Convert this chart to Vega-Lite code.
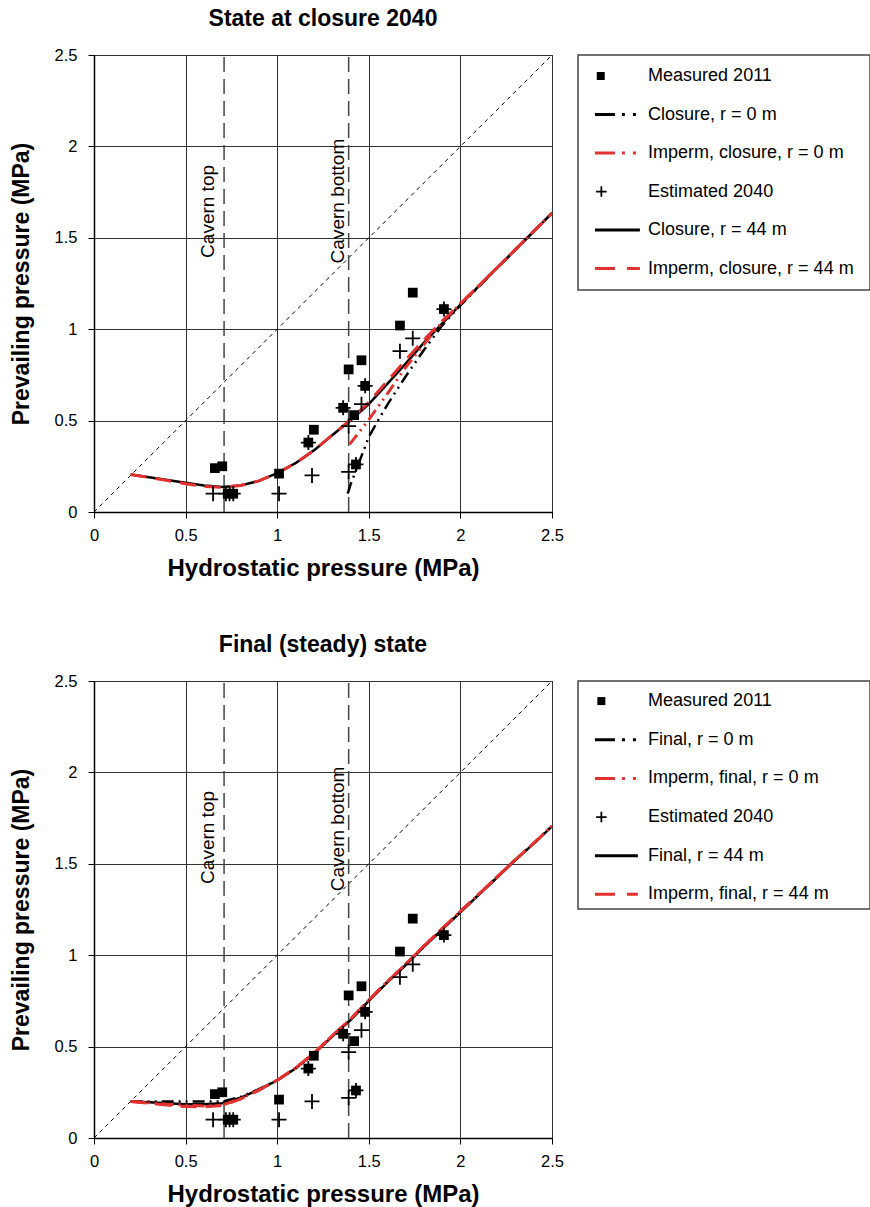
{
  "$schema": "https://vega.github.io/schema/vega-lite/v6.json",
  "background": "white",
  "padding": {"left": 9, "top": 7, "right": 0, "bottom": 0},
  "spacing": 52,
  "datasets": {
    "measured": [{"x":0.66,"y":0.24},{"x":0.70,"y":0.25},{"x":0.73,"y":0.10},{"x":0.76,"y":0.10},{"x":1.01,"y":0.21},{"x":1.17,"y":0.38},{"x":1.20,"y":0.45},{"x":1.36,"y":0.57},{"x":1.39,"y":0.78},{"x":1.42,"y":0.53},{"x":1.43,"y":0.26},{"x":1.46,"y":0.83},{"x":1.48,"y":0.69},{"x":1.67,"y":1.02},{"x":1.74,"y":1.20},{"x":1.91,"y":1.11}],
    "estimated": [{"x":0.65,"y":0.10},{"x":0.72,"y":0.10},{"x":0.74,"y":0.10},{"x":0.76,"y":0.10},{"x":1.01,"y":0.10},{"x":1.17,"y":0.38},{"x":1.19,"y":0.20},{"x":1.36,"y":0.57},{"x":1.39,"y":0.47},{"x":1.39,"y":0.22},{"x":1.43,"y":0.26},{"x":1.46,"y":0.59},{"x":1.48,"y":0.69},{"x":1.67,"y":0.88},{"x":1.74,"y":0.95},{"x":1.91,"y":1.11}],
    "diag": [{"x":0,"y":0},{"x":2.5,"y":2.5}],
    "cavern": [{"x":0.71,"label":"Cavern top","ty":1.39},{"x":1.39,"label":"Cavern bottom","ty":1.36}],
    "cavern2": [{"x":0.71,"label":"Cavern top","ty":1.39},{"x":1.39,"label":"Cavern bottom","ty":1.35}],
    "top_curves": [
      {"s":"r44","x":0.20,"y":0.205},{"s":"r44","x":0.30,"y":0.19},{"s":"r44","x":0.40,"y":0.175},{"s":"r44","x":0.50,"y":0.16},{"s":"r44","x":0.60,"y":0.145},{"s":"r44","x":0.70,"y":0.137},{"s":"r44","x":0.80,"y":0.145},{"s":"r44","x":0.90,"y":0.17},{"s":"r44","x":1.00,"y":0.212},{"s":"r44","x":1.10,"y":0.267},{"s":"r44","x":1.20,"y":0.337},{"s":"r44","x":1.30,"y":0.42},{"s":"r44","x":1.40,"y":0.50},{"s":"r44","x":1.50,"y":0.59},{"s":"r44","x":1.60,"y":0.70},{"s":"r44","x":1.70,"y":0.81},{"s":"r44","x":1.80,"y":0.925},{"s":"r44","x":1.90,"y":1.03},{"s":"r44","x":2.00,"y":1.135},{"s":"r44","x":2.10,"y":1.235},{"s":"r44","x":2.20,"y":1.335},{"s":"r44","x":2.30,"y":1.435},{"s":"r44","x":2.40,"y":1.535},{"s":"r44","x":2.50,"y":1.635},
      {"s":"i44","x":0.20,"y":0.205},{"s":"i44","x":0.30,"y":0.19},{"s":"i44","x":0.40,"y":0.172},{"s":"i44","x":0.50,"y":0.155},{"s":"i44","x":0.60,"y":0.14},{"s":"i44","x":0.70,"y":0.135},{"s":"i44","x":0.80,"y":0.145},{"s":"i44","x":0.90,"y":0.17},{"s":"i44","x":1.00,"y":0.212},{"s":"i44","x":1.10,"y":0.267},{"s":"i44","x":1.20,"y":0.337},{"s":"i44","x":1.30,"y":0.42},{"s":"i44","x":1.40,"y":0.505},{"s":"i44","x":1.50,"y":0.60},{"s":"i44","x":1.60,"y":0.715},{"s":"i44","x":1.70,"y":0.83},{"s":"i44","x":1.80,"y":0.94},{"s":"i44","x":1.90,"y":1.045},{"s":"i44","x":2.00,"y":1.14},{"s":"i44","x":2.10,"y":1.237},{"s":"i44","x":2.20,"y":1.336},{"s":"i44","x":2.30,"y":1.435},{"s":"i44","x":2.40,"y":1.535},{"s":"i44","x":2.50,"y":1.635},
      {"s":"r0","x":1.385,"y":0.10},{"s":"r0","x":1.40,"y":0.15},{"s":"r0","x":1.42,"y":0.20},{"s":"r0","x":1.45,"y":0.28},{"s":"r0","x":1.50,"y":0.41},{"s":"r0","x":1.55,"y":0.50},{"s":"r0","x":1.60,"y":0.585},{"s":"r0","x":1.70,"y":0.74},{"s":"r0","x":1.80,"y":0.885},{"s":"r0","x":1.90,"y":1.02},{"s":"r0","x":2.00,"y":1.13},{"s":"r0","x":2.10,"y":1.233},{"s":"r0","x":2.20,"y":1.334},{"s":"r0","x":2.30,"y":1.434},{"s":"r0","x":2.40,"y":1.534},{"s":"r0","x":2.50,"y":1.635},
      {"s":"i0","x":1.395,"y":0.37},{"s":"i0","x":1.45,"y":0.44},{"s":"i0","x":1.50,"y":0.505},{"s":"i0","x":1.60,"y":0.645},{"s":"i0","x":1.70,"y":0.79},{"s":"i0","x":1.80,"y":0.915},{"s":"i0","x":1.90,"y":1.04},{"s":"i0","x":2.00,"y":1.14},{"s":"i0","x":2.10,"y":1.237},{"s":"i0","x":2.20,"y":1.336},{"s":"i0","x":2.30,"y":1.435},{"s":"i0","x":2.40,"y":1.535},{"s":"i0","x":2.50,"y":1.635}
    ],
    "bottom_curves": [
      {"s":"r44","x":0.20,"y":0.20},{"s":"r44","x":0.30,"y":0.195},{"s":"r44","x":0.40,"y":0.19},{"s":"r44","x":0.50,"y":0.185},{"s":"r44","x":0.60,"y":0.185},{"s":"r44","x":0.70,"y":0.19},{"s":"r44","x":0.80,"y":0.22},{"s":"r44","x":0.90,"y":0.265},{"s":"r44","x":1.00,"y":0.315},{"s":"r44","x":1.10,"y":0.38},{"s":"r44","x":1.20,"y":0.46},{"s":"r44","x":1.30,"y":0.555},{"s":"r44","x":1.40,"y":0.645},{"s":"r44","x":1.50,"y":0.75},{"s":"r44","x":1.60,"y":0.85},{"s":"r44","x":1.70,"y":0.945},{"s":"r44","x":1.80,"y":1.045},{"s":"r44","x":1.90,"y":1.14},{"s":"r44","x":2.00,"y":1.235},{"s":"r44","x":2.10,"y":1.33},{"s":"r44","x":2.20,"y":1.425},{"s":"r44","x":2.30,"y":1.52},{"s":"r44","x":2.40,"y":1.61},{"s":"r44","x":2.50,"y":1.705},
      {"s":"r0","x":0.20,"y":0.20},{"s":"r0","x":0.40,"y":0.20},{"s":"r0","x":0.60,"y":0.20},{"s":"r0","x":0.70,"y":0.20},{"s":"r0","x":0.80,"y":0.225},{"s":"r0","x":0.90,"y":0.267},{"s":"r0","x":1.00,"y":0.317},{"s":"r0","x":1.10,"y":0.382},{"s":"r0","x":1.20,"y":0.462},{"s":"r0","x":1.30,"y":0.557},{"s":"r0","x":1.40,"y":0.647},{"s":"r0","x":1.50,"y":0.752},{"s":"r0","x":1.60,"y":0.852},{"s":"r0","x":1.70,"y":0.947},{"s":"r0","x":1.80,"y":1.047},{"s":"r0","x":1.90,"y":1.142},{"s":"r0","x":2.00,"y":1.237},{"s":"r0","x":2.10,"y":1.332},{"s":"r0","x":2.20,"y":1.427},{"s":"r0","x":2.30,"y":1.522},{"s":"r0","x":2.40,"y":1.612},{"s":"r0","x":2.50,"y":1.707},
      {"s":"i0","x":0.20,"y":0.20},{"s":"i0","x":0.40,"y":0.185},{"s":"i0","x":0.60,"y":0.175},{"s":"i0","x":0.70,"y":0.18},{"s":"i0","x":0.80,"y":0.215},{"s":"i0","x":0.90,"y":0.262},{"s":"i0","x":1.00,"y":0.316},{"s":"i0","x":1.10,"y":0.383},{"s":"i0","x":1.20,"y":0.464},{"s":"i0","x":1.30,"y":0.559},{"s":"i0","x":1.40,"y":0.65},{"s":"i0","x":1.50,"y":0.755},{"s":"i0","x":1.60,"y":0.855},{"s":"i0","x":1.70,"y":0.95},{"s":"i0","x":1.80,"y":1.05},{"s":"i0","x":1.90,"y":1.145},{"s":"i0","x":2.00,"y":1.24},{"s":"i0","x":2.10,"y":1.334},{"s":"i0","x":2.20,"y":1.428},{"s":"i0","x":2.30,"y":1.522},{"s":"i0","x":2.40,"y":1.612},{"s":"i0","x":2.50,"y":1.707},
      {"s":"i44","x":0.20,"y":0.20},{"s":"i44","x":0.30,"y":0.19},{"s":"i44","x":0.40,"y":0.18},{"s":"i44","x":0.50,"y":0.172},{"s":"i44","x":0.60,"y":0.17},{"s":"i44","x":0.70,"y":0.178},{"s":"i44","x":0.80,"y":0.213},{"s":"i44","x":0.90,"y":0.262},{"s":"i44","x":1.00,"y":0.316},{"s":"i44","x":1.10,"y":0.383},{"s":"i44","x":1.20,"y":0.464},{"s":"i44","x":1.30,"y":0.559},{"s":"i44","x":1.40,"y":0.65},{"s":"i44","x":1.50,"y":0.755},{"s":"i44","x":1.60,"y":0.855},{"s":"i44","x":1.70,"y":0.95},{"s":"i44","x":1.80,"y":1.05},{"s":"i44","x":1.90,"y":1.145},{"s":"i44","x":2.00,"y":1.24},{"s":"i44","x":2.10,"y":1.334},{"s":"i44","x":2.20,"y":1.428},{"s":"i44","x":2.30,"y":1.522},{"s":"i44","x":2.40,"y":1.612},{"s":"i44","x":2.50,"y":1.707}
    ],
    "legend_top": [{"row":0,"label":"Measured 2011","sym":"square"},{"row":1,"label":"Closure, r = 0 m","sym":"k0"},{"row":2,"label":"Imperm, closure, r = 0 m","sym":"red0"},{"row":3,"label":"Estimated 2040","sym":"cross"},{"row":4,"label":"Closure, r = 44 m","sym":"k44"},{"row":5,"label":"Imperm, closure, r = 44 m","sym":"red44"}],
    "legend_bottom": [{"row":0,"label":"Measured 2011","sym":"square"},{"row":1,"label":"Final, r = 0 m","sym":"k0"},{"row":2,"label":"Imperm, final, r = 0 m","sym":"red0"},{"row":3,"label":"Estimated 2040","sym":"cross"},{"row":4,"label":"Final, r = 44 m","sym":"k44"},{"row":5,"label":"Imperm, final, r = 44 m","sym":"red44"}]
  },
  "vconcat": [
    {
      "bounds": "flush",
      "spacing": 26,
      "hconcat": [
        {
          "width": 458, "height": 457,
          "title": {"text": "State at closure 2040"},
          "view": {"stroke": "black", "strokeWidth": 1},
          "encoding": {
            "x": {"type": "quantitative", "scale": {"domain": [0, 2.5], "nice": false, "zero": false}, "axis": {"title": "Hydrostatic pressure (MPa)", "values": [0, 0.5, 1, 1.5, 2, 2.5], "format": "~g"}},
            "y": {"type": "quantitative", "scale": {"domain": [0, 2.5], "nice": false, "zero": false}, "axis": {"title": "Prevailing pressure (MPa)", "values": [0, 0.5, 1, 1.5, 2, 2.5], "format": "~g"}}
          },
          "layer": [
            {"data": {"name": "diag"}, "mark": {"type": "line", "color": "black", "strokeWidth": 1, "strokeDash": [4, 4]}, "encoding": {"x": {"field": "x"}, "y": {"field": "y"}}},
            {"data": {"name": "cavern"}, "mark": {"type": "rule", "color": "#444", "strokeWidth": 1.5, "strokeDash": [15, 7]}, "encoding": {"x": {"field": "x"}, "y": {"datum": 0}, "y2": {"datum": 2.5}}},
            {"data": {"name": "cavern"}, "transform": [{"filter": "datum.label == 'Cavern top'"}], "mark": {"type": "text", "angle": 270, "align": "left", "baseline": "alphabetic", "dy": -10, "fontSize": 19, "color": "black"}, "encoding": {"x": {"field": "x"}, "y": {"field": "ty"}, "text": {"field": "label"}}},
            {"data": {"name": "cavern"}, "transform": [{"filter": "datum.label == 'Cavern bottom'"}], "mark": {"type": "text", "angle": 270, "align": "left", "baseline": "alphabetic", "dy": -5, "fontSize": 19, "color": "black"}, "encoding": {"x": {"field": "x"}, "y": {"field": "ty"}, "text": {"field": "label"}}},
            {"data": {"name": "top_curves"}, "transform": [{"filter": "datum.s == 'r0'"}], "mark": {"type": "line", "color": "black", "strokeWidth": 2.5, "strokeDash": [12, 5, 2, 5, 2, 5]}, "encoding": {"x": {"field": "x"}, "y": {"field": "y"}}},
            {"data": {"name": "top_curves"}, "transform": [{"filter": "datum.s == 'r44'"}], "mark": {"type": "line", "color": "black", "strokeWidth": 2.5}, "encoding": {"x": {"field": "x"}, "y": {"field": "y"}}},
            {"data": {"name": "top_curves"}, "transform": [{"filter": "datum.s == 'i0'"}], "mark": {"type": "line", "color": "#e3312f", "strokeWidth": 3, "strokeDash": [12, 5, 2, 5, 2, 5]}, "encoding": {"x": {"field": "x"}, "y": {"field": "y"}}},
            {"data": {"name": "top_curves"}, "transform": [{"filter": "datum.s == 'i44'"}], "mark": {"type": "line", "color": "#e3312f", "strokeWidth": 3, "strokeDash": [16, 9]}, "encoding": {"x": {"field": "x"}, "y": {"field": "y"}}},
            {"data": {"name": "measured"}, "mark": {"type": "point", "shape": "square", "filled": true, "color": "black", "size": 95, "opacity": 1}, "encoding": {"x": {"field": "x"}, "y": {"field": "y"}}},
            {"data": {"name": "estimated"}, "mark": {"type": "point", "shape": "M-1,0H1M0,-1V1", "filled": false, "color": "black", "strokeWidth": 1.8, "size": 225, "opacity": 1}, "encoding": {"x": {"field": "x"}, "y": {"field": "y"}}}
          ]
        },
        {
          "width": 292, "height": 235,
          "view": {"stroke": "#444", "strokeWidth": 1.5},
          "data": {"name": "legend_top"},
          "encoding": {
            "y": {"field": "row", "type": "quantitative", "scale": {"domain": [-0.545, 5.555], "reverse": true, "nice": false, "zero": false}, "axis": null}
          },
          "layer": [
            {"transform": [{"filter": "datum.sym == 'square'"}], "mark": {"type": "point", "shape": "square", "filled": true, "color": "black", "size": 64, "opacity": 1}, "encoding": {"x": {"datum": 0.78, "type": "quantitative", "scale": {"domain": [0, 10], "nice": false, "zero": false}, "axis": null}}},
            {"transform": [{"filter": "datum.sym == 'cross'"}], "mark": {"type": "point", "shape": "M-1,0H1M0,-1V1", "filled": false, "color": "black", "strokeWidth": 1.8, "size": 110, "opacity": 1}, "encoding": {"x": {"datum": 0.8, "type": "quantitative"}}},
            {"transform": [{"filter": "datum.sym == 'k0'"}], "mark": {"type": "rule", "color": "black", "strokeWidth": 3, "strokeDash": [20, 7, 3, 8, 3, 30]}, "encoding": {"x": {"datum": 0.58, "type": "quantitative"}, "x2": {"datum": 2.12}}},
            {"transform": [{"filter": "datum.sym == 'red0'"}], "mark": {"type": "rule", "color": "#e3312f", "strokeWidth": 3, "strokeDash": [20, 7, 3, 8, 3, 30]}, "encoding": {"x": {"datum": 0.58, "type": "quantitative"}, "x2": {"datum": 2.12}}},
            {"transform": [{"filter": "datum.sym == 'k44'"}], "mark": {"type": "rule", "color": "black", "strokeWidth": 3}, "encoding": {"x": {"datum": 0.58, "type": "quantitative"}, "x2": {"datum": 2.12}}},
            {"transform": [{"filter": "datum.sym == 'red44'"}], "mark": {"type": "rule", "color": "#e3312f", "strokeWidth": 3, "strokeDash": [20, 12]}, "encoding": {"x": {"datum": 0.58, "type": "quantitative"}, "x2": {"datum": 2.12}}},
            {"mark": {"type": "text", "align": "left", "baseline": "middle", "fontSize": 18, "color": "black"}, "encoding": {"x": {"datum": 2.4, "type": "quantitative"}, "text": {"field": "label"}}}
          ]
        }
      ]
    },
    {
      "bounds": "flush",
      "spacing": 26,
      "hconcat": [
        {
          "width": 458, "height": 457,
          "title": {"text": "Final (steady) state"},
          "view": {"stroke": "black", "strokeWidth": 1},
          "encoding": {
            "x": {"type": "quantitative", "scale": {"domain": [0, 2.5], "nice": false, "zero": false}, "axis": {"title": "Hydrostatic pressure (MPa)", "values": [0, 0.5, 1, 1.5, 2, 2.5], "format": "~g"}},
            "y": {"type": "quantitative", "scale": {"domain": [0, 2.5], "nice": false, "zero": false}, "axis": {"title": "Prevailing pressure (MPa)", "values": [0, 0.5, 1, 1.5, 2, 2.5], "format": "~g"}}
          },
          "layer": [
            {"data": {"name": "diag"}, "mark": {"type": "line", "color": "black", "strokeWidth": 1, "strokeDash": [4, 4]}, "encoding": {"x": {"field": "x"}, "y": {"field": "y"}}},
            {"data": {"name": "cavern2"}, "mark": {"type": "rule", "color": "#444", "strokeWidth": 1.5, "strokeDash": [15, 7]}, "encoding": {"x": {"field": "x"}, "y": {"datum": 0}, "y2": {"datum": 2.5}}},
            {"data": {"name": "cavern2"}, "transform": [{"filter": "datum.label == 'Cavern top'"}], "mark": {"type": "text", "angle": 270, "align": "left", "baseline": "alphabetic", "dy": -10, "fontSize": 19, "color": "black"}, "encoding": {"x": {"field": "x"}, "y": {"field": "ty"}, "text": {"field": "label"}}},
            {"data": {"name": "cavern2"}, "transform": [{"filter": "datum.label == 'Cavern bottom'"}], "mark": {"type": "text", "angle": 270, "align": "left", "baseline": "alphabetic", "dy": -5, "fontSize": 19, "color": "black"}, "encoding": {"x": {"field": "x"}, "y": {"field": "ty"}, "text": {"field": "label"}}},
            {"data": {"name": "bottom_curves"}, "transform": [{"filter": "datum.s == 'r0'"}], "mark": {"type": "line", "color": "black", "strokeWidth": 2.5, "strokeDash": [12, 5, 2, 5, 2, 5]}, "encoding": {"x": {"field": "x"}, "y": {"field": "y"}}},
            {"data": {"name": "bottom_curves"}, "transform": [{"filter": "datum.s == 'r44'"}], "mark": {"type": "line", "color": "black", "strokeWidth": 2.5}, "encoding": {"x": {"field": "x"}, "y": {"field": "y"}}},
            {"data": {"name": "bottom_curves"}, "transform": [{"filter": "datum.s == 'i0'"}], "mark": {"type": "line", "color": "#e3312f", "strokeWidth": 3, "strokeDash": [12, 5, 2, 5, 2, 5]}, "encoding": {"x": {"field": "x"}, "y": {"field": "y"}}},
            {"data": {"name": "bottom_curves"}, "transform": [{"filter": "datum.s == 'i44'"}], "mark": {"type": "line", "color": "#e3312f", "strokeWidth": 3, "strokeDash": [16, 9]}, "encoding": {"x": {"field": "x"}, "y": {"field": "y"}}},
            {"data": {"name": "measured"}, "mark": {"type": "point", "shape": "square", "filled": true, "color": "black", "size": 95, "opacity": 1}, "encoding": {"x": {"field": "x"}, "y": {"field": "y"}}},
            {"data": {"name": "estimated"}, "mark": {"type": "point", "shape": "M-1,0H1M0,-1V1", "filled": false, "color": "black", "strokeWidth": 1.8, "size": 225, "opacity": 1}, "encoding": {"x": {"field": "x"}, "y": {"field": "y"}}}
          ]
        },
        {
          "width": 292, "height": 228,
          "view": {"stroke": "#444", "strokeWidth": 1.5},
          "data": {"name": "legend_bottom"},
          "encoding": {
            "y": {"field": "row", "type": "quantitative", "scale": {"domain": [-0.52, 5.38], "reverse": true, "nice": false, "zero": false}, "axis": null}
          },
          "layer": [
            {"transform": [{"filter": "datum.sym == 'square'"}], "mark": {"type": "point", "shape": "square", "filled": true, "color": "black", "size": 64, "opacity": 1}, "encoding": {"x": {"datum": 0.8, "type": "quantitative", "scale": {"domain": [0, 10], "nice": false, "zero": false}, "axis": null}}},
            {"transform": [{"filter": "datum.sym == 'cross'"}], "mark": {"type": "point", "shape": "M-1,0H1M0,-1V1", "filled": false, "color": "black", "strokeWidth": 1.8, "size": 110, "opacity": 1}, "encoding": {"x": {"datum": 0.8, "type": "quantitative"}}},
            {"transform": [{"filter": "datum.sym == 'k0'"}], "mark": {"type": "rule", "color": "black", "strokeWidth": 3, "strokeDash": [20, 7, 3, 8, 3, 30]}, "encoding": {"x": {"datum": 0.58, "type": "quantitative"}, "x2": {"datum": 2.05}}},
            {"transform": [{"filter": "datum.sym == 'red0'"}], "mark": {"type": "rule", "color": "#e3312f", "strokeWidth": 3, "strokeDash": [20, 7, 3, 8, 3, 30]}, "encoding": {"x": {"datum": 0.58, "type": "quantitative"}, "x2": {"datum": 2.05}}},
            {"transform": [{"filter": "datum.sym == 'k44'"}], "mark": {"type": "rule", "color": "black", "strokeWidth": 3}, "encoding": {"x": {"datum": 0.58, "type": "quantitative"}, "x2": {"datum": 2.05}}},
            {"transform": [{"filter": "datum.sym == 'red44'"}], "mark": {"type": "rule", "color": "#e3312f", "strokeWidth": 3, "strokeDash": [20, 12]}, "encoding": {"x": {"datum": 0.58, "type": "quantitative"}, "x2": {"datum": 2.05}}},
            {"mark": {"type": "text", "align": "left", "baseline": "middle", "fontSize": 18, "color": "black"}, "encoding": {"x": {"datum": 2.4, "type": "quantitative"}, "text": {"field": "label"}}}
          ]
        }
      ]
    }
  ],
  "config": {
    "font": "Liberation Sans",
    "axis": {"labelFont": "Liberation Sans", "labelFontSize": 16.5, "labelColor": "black", "labelFlush": false, "labelOverlap": false, "titleFont": "Liberation Sans", "titleFontWeight": "bold", "titleColor": "black", "domainColor": "black", "domainWidth": 1.5, "tickColor": "black", "tickSize": 6, "gridColor": "#333", "gridWidth": 1, "gridOpacity": 1},
    "axisX": {"labelPadding": 9, "titlePadding": 13, "titleFontSize": 24},
    "axisY": {"labelPadding": 11, "titlePadding": 21, "titleFontSize": 23},
    "title": {"font": "Liberation Sans", "fontSize": 23, "fontWeight": "bold", "color": "black", "offset": 16}
  }
}
